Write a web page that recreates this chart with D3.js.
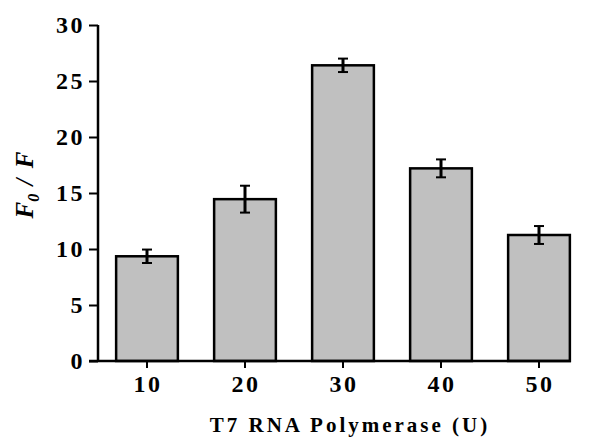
<!DOCTYPE html>
<html>
<head>
<meta charset="utf-8">
<script src="https://cdnjs.cloudflare.com/ajax/libs/d3/7.8.5/d3.min.js"></script>
<style>
  body { margin: 0; background: #fff; }
  svg { display: block; }
</style>
</head>
<body>
<svg width="600" height="439"></svg>
<script>
// data
const units = ['10', '20', '30', '40', '50']
const ratio = [9.35, 14.45, 26.4, 17.2, 11.25]
const errs = [0.6, 1.2, 0.6, 0.8, 0.8]
const yTicks = [0, 5, 10, 15, 20, 25, 30]

const svg = d3.select('svg')
const mLeft = 98, mRight = 588, mTop = 25, mBottom = 361

const x = d3.scaleBand()
  .domain(units)
  .range([mLeft, mRight])
  .paddingInner(0.37)
  .paddingOuter(0.185)
const y = d3.scaleLinear()
  .domain([0, 30])
  .range([mBottom, mTop])

// bars
svg.append('g').selectAll('rect')
  .data(units)
  .join('rect')
  .attr('x', d => x(d))
  .attr('y', (d, i) => y(ratio[i]))
  .attr('width', x.bandwidth())
  .attr('height', (d, i) => y(0) - y(ratio[i]))
  .attr('fill', '#c0c0c0')
  .attr('stroke', '#000')
  .attr('stroke-width', 2.5)

// error bars
const eb = svg.append('g').attr('stroke', '#000')
units.forEach((u, i) => {
  const cx = x(u) + x.bandwidth() / 2
  const hi = y(ratio[i] + errs[i]), lo = y(ratio[i] - errs[i])
  eb.append('line').attr('x1', cx).attr('x2', cx).attr('y1', hi).attr('y2', lo).attr('stroke-width', 3)
  eb.append('line').attr('x1', cx - 5).attr('x2', cx + 5).attr('y1', hi).attr('y2', hi).attr('stroke-width', 2)
  eb.append('line').attr('x1', cx - 5).attr('x2', cx + 5).attr('y1', lo).attr('y2', lo).attr('stroke-width', 2)
})

const tickFont = sel => sel
  .style('font-family', '"Liberation Serif", "Times New Roman", serif')
  .style('font-weight', 'bold')
  .style('font-size', '24px')
  .style('letter-spacing', '2.5px')
  .attr('fill', '#000')

// y axis
const yAxis = svg.append('g')
  .attr('transform', `translate(${mLeft},0)`)
  .call(d3.axisLeft(y).tickValues(yTicks).tickSize(9).tickPadding(4))
yAxis.select('.domain').attr('d', `M0,${mTop}V${mBottom}`).attr('stroke-width', 2.5)
yAxis.selectAll('.tick line').attr('stroke-width', 2)
yAxis.selectAll('.tick text').call(tickFont).attr('dy', '0.33em')

// x axis
const xAxis = svg.append('g')
  .attr('transform', `translate(0,${mBottom})`)
  .call(d3.axisBottom(x).tickSize(7).tickPadding(7))
xAxis.select('.domain').attr('d', `M${mLeft - 9},0H${x(units[4]) + x.bandwidth() + 1}`).attr('stroke-width', 2.5)
xAxis.selectAll('.tick line').attr('stroke-width', 2)
xAxis.selectAll('.tick text').call(tickFont).attr('dx', '1px')

// titles
svg.append('text')
  .attr('x', 350).attr('y', 432)
  .attr('text-anchor', 'middle')
  .style('font-family', '"Liberation Serif", serif')
  .style('font-weight', 'bold')
  .style('font-size', '21px')
  .style('letter-spacing', '3px')
  .text('T7 RNA Polymerase (U)')

const yl = svg.append('text')
  .attr('transform', 'translate(33,184) rotate(-90)')
  .attr('text-anchor', 'middle')
  .style('font-family', '"Liberation Serif", serif')
  .style('font-weight', 'bold')
  .style('font-style', 'italic')
  .style('font-size', '25px')
yl.append('tspan').text('F')
yl.append('tspan').attr('dy', 6).style('font-size', '16px').text('0')
yl.append('tspan').attr('dy', -6).style('letter-spacing', '2px').text('  / F')
</script>
</body>
</html>
